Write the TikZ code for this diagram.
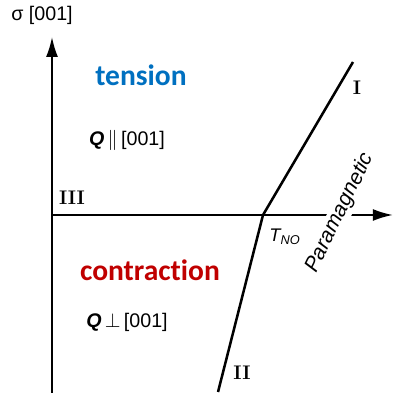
\documentclass[tikz,border=0pt]{standalone}
\usepackage{fontspec}
\setsansfont{Liberation Sans}
\newfontfamily\carlito[Ligatures=NoCommon]{Carlito}
\usepackage{tikz}
\usetikzlibrary{arrows.meta}
\definecolor{tensionblue}{RGB}{0,112,192}
\definecolor{contractred}{RGB}{192,0,0}

\begin{document}
\begin{tikzpicture}
\useasboundingbox (0,0) rectangle (9.9,10.025);
\tikzset{
    axis/.style={line width=1.3pt, -{Latex[length=5mm,width=3mm]}},
    phase/.style={line width=1.8pt},
    lbl/.style={font=\sffamily\fontsize{14}{16}\selectfont},
    roman/.style={font=\fontsize{14}{16}\selectfont\bfseries},
    region/.style={font=\carlito\bfseries\fontsize{21}{24}\selectfont}
}
\coordinate (O) at (1.3,4.65);
\coordinate (ytop) at (1.3,9.1);
\coordinate (ybot) at (1.3,0.2);
\coordinate (xend) at (9.82,4.65);
\coordinate (TN) at (6.575,4.65);
\coordinate (Iend) at (8.825,8.475);
\coordinate (IIend) at (5.45,0.225);
\draw[axis] (ybot) -- (ytop);
\draw[axis] (O) -- (xend);
\draw[phase] (TN) -- (Iend);
\draw[phase] (TN) -- (IIend);
\node[lbl] (sigmalbl) at (1.05,9.65) {σ [001]};
\node[region, tensionblue] (tension) at (3.525,8.15) {tension};
\node[lbl] (Qpar) at (3.175,6.525) {\textbf{\textit{Q}}\,$\parallel$\,[001]};
\node[roman] (IIIlbl) at (1.8,5.075) {III};
\node[roman] (Ilbl) at (8.925,7.825) {I};
\node[lbl, font=\sffamily\itshape\fontsize{13}{15}\selectfont] (TNlbl) at (7.125,4.1) {T\textsubscript{NO}};
\node[lbl, font=\sffamily\itshape\fontsize{15}{17}\selectfont, fill=white, inner sep=1pt, rotate=64] (para) at (8.5,4.7) {Paramagnetic};
\node[lbl, font=\sffamily\itshape\fontsize{13}{15}\selectfont, anchor=west] (Tlbl) at (9.78,4.2) {T};
\node[region, contractred] (contraction) at (3.75,3.275) {contraction};
\node[lbl] (Qperp) at (3.175,1.975) {\textbf{\textit{Q}}\,$\perp$\,[001]};
\node[roman] (IIlbl) at (6.05,0.7) {II};
\end{tikzpicture}
\end{document}
